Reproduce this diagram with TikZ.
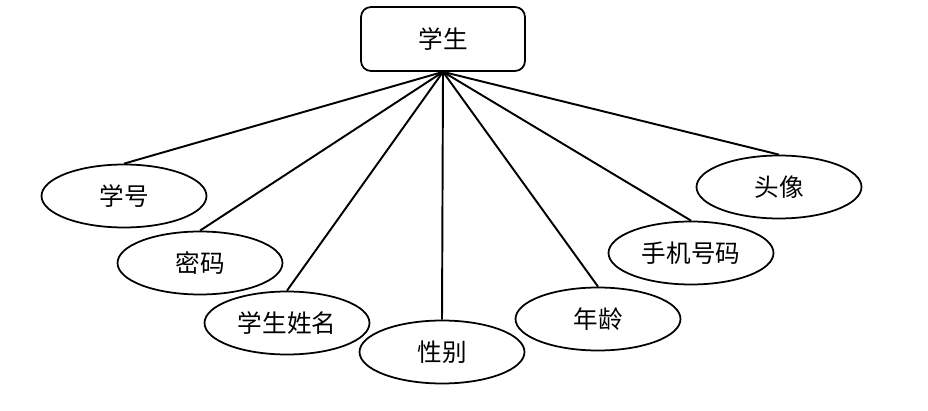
\documentclass[tikz,border=0pt]{standalone}
\usepackage{fontspec}
\newfontfamily\cjk{Noto Sans CJK SC}
\usetikzlibrary{shapes.geometric}
\tikzset{
    entitybox/.style={rectangle, draw=black, fill=white, rounded corners=0.2cm, minimum width=3.28cm, minimum height=1.28cm, line width=1pt, font=\cjk\fontsize{14}{16}\selectfont},
    attrbox/.style={ellipse, draw=black, fill=white, minimum width=3.3cm, minimum height=1.26cm, inner sep=1pt, line width=1pt, font=\cjk\fontsize{14}{16}\selectfont},
    link/.style={line width=1.1pt, draw=black}
}
\begin{document}
\begin{tikzpicture}[x=0.02cm, y=-0.02cm]
    \useasboundingbox (0,0) rectangle (928,411);
    \node[entitybox] (student) at (443,39) {学生};
    \foreach \name/\x/\y/\lab in {sno/124/196/学号, pwd/200/263/密码, sname/287/323/学生姓名, sex/442/352/性别, age/598/319/年龄, phone/691/253/手机号码, avatar/779/187/头像}{
        \node[attrbox] (\name) at (\x,\y) {\lab};
        \draw[link] (student.south) -- (\name.north);
    }
\end{tikzpicture}
\end{document}
